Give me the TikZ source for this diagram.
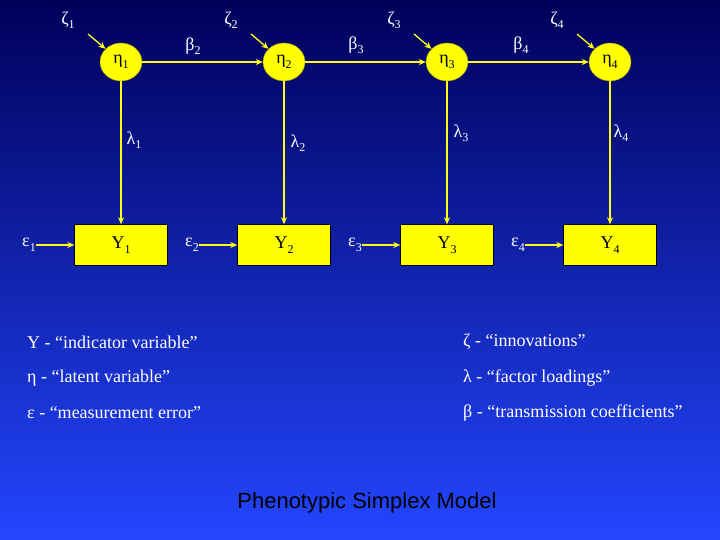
\documentclass[tikz,border=0pt]{standalone}
\usepackage{fontspec}
\setmainfont{Liberation Serif}
\newfontfamily\arialf{Liberation Sans}
\usetikzlibrary{arrows.meta,shapes.geometric}
\definecolor{ylw}{RGB}{255,255,0}
\definecolor{bgtop}{RGB}{0,0,90}
\definecolor{bgbot}{RGB}{35,70,255}
\newcommand{\sbs}[1]{\raisebox{-0.25em}{\fontsize{12}{12}\selectfont #1}}
\begin{document}
\begin{tikzpicture}[x=1pt,y=-1pt,
  lat/.style={ellipse,fill=ylw,draw=ylw!60!black,minimum width=42,minimum height=38,inner sep=0,font=\fontsize{18}{18}\selectfont},
  obs/.style={rectangle,fill=ylw,draw=black,minimum width=93,minimum height=41,inner sep=0,font=\fontsize{18}{18}\selectfont},
  lbl/.style={text=white,font=\fontsize{18}{18}\selectfont,inner sep=0},
  leg/.style={text=white,font=\fontsize{18}{18}\selectfont,anchor=west,inner sep=0},
  arr/.style={draw=ylw!90!white,line width=1.3pt,-{Stealth[length=7pt,width=6pt]}}]
\shade[top color=bgtop,bottom color=bgbot] (0,0) rectangle (720,540);
\useasboundingbox (0,0) rectangle (720,540);
\foreach \i/\x in {1/121,2/284,3/447,4/610}{
  \node[lat] (e\i) at (\x,62) {η\sbs{\i}};
  \node[obs] (y\i) at (\x,245) {Y\sbs{\i}};
  \draw[arr] (e\i) -- (y\i);
  \node[lbl] (eps\i) at (\x-92,245) {ε\sbs{\i}};
  \draw[arr] (eps\i) -- (y\i);
  \node[lbl] (z\i) at (\x-53,20) {ζ\sbs{\i}};
  \coordinate (zs\i) at (\x-33,34);
  \draw[arr] (zs\i) -- (e\i);
}
\node[lbl] (l1) at (134,140) {λ\sbs{1}};
\node[lbl] (l2) at (298,143) {λ\sbs{2}};
\node[lbl] (l3) at (461,133) {λ\sbs{3}};
\node[lbl] (l4) at (621,133) {λ\sbs{4}};
\node[lbl] (b2) at (193,46) {β\sbs{2}};
\node[lbl] (b3) at (356,45) {β\sbs{3}};
\node[lbl] (b4) at (521,45) {β\sbs{4}};
\draw[arr] (e1) -- (e2);
\draw[arr] (e2) -- (e3);
\draw[arr] (e3) -- (e4);
\node[leg] (t1) at (27,342) {Y - “indicator variable”};
\node[leg] (t2) at (27,378) {η - “latent variable”};
\node[leg] (t3) at (27,413) {ε - “measurement error”};
\node[leg] (t4) at (463,342) {ζ - “innovations”};
\node[leg] (t5) at (463,378) {λ - “factor loadings”};
\node[leg] (t6) at (463,413) {β - “transmission coefficients”};
\node[text=black,font=\arialf\fontsize{22}{22}\selectfont,inner sep=0] (title) at (367,503) {Phenotypic Simplex Model};
\end{tikzpicture}
\end{document}
